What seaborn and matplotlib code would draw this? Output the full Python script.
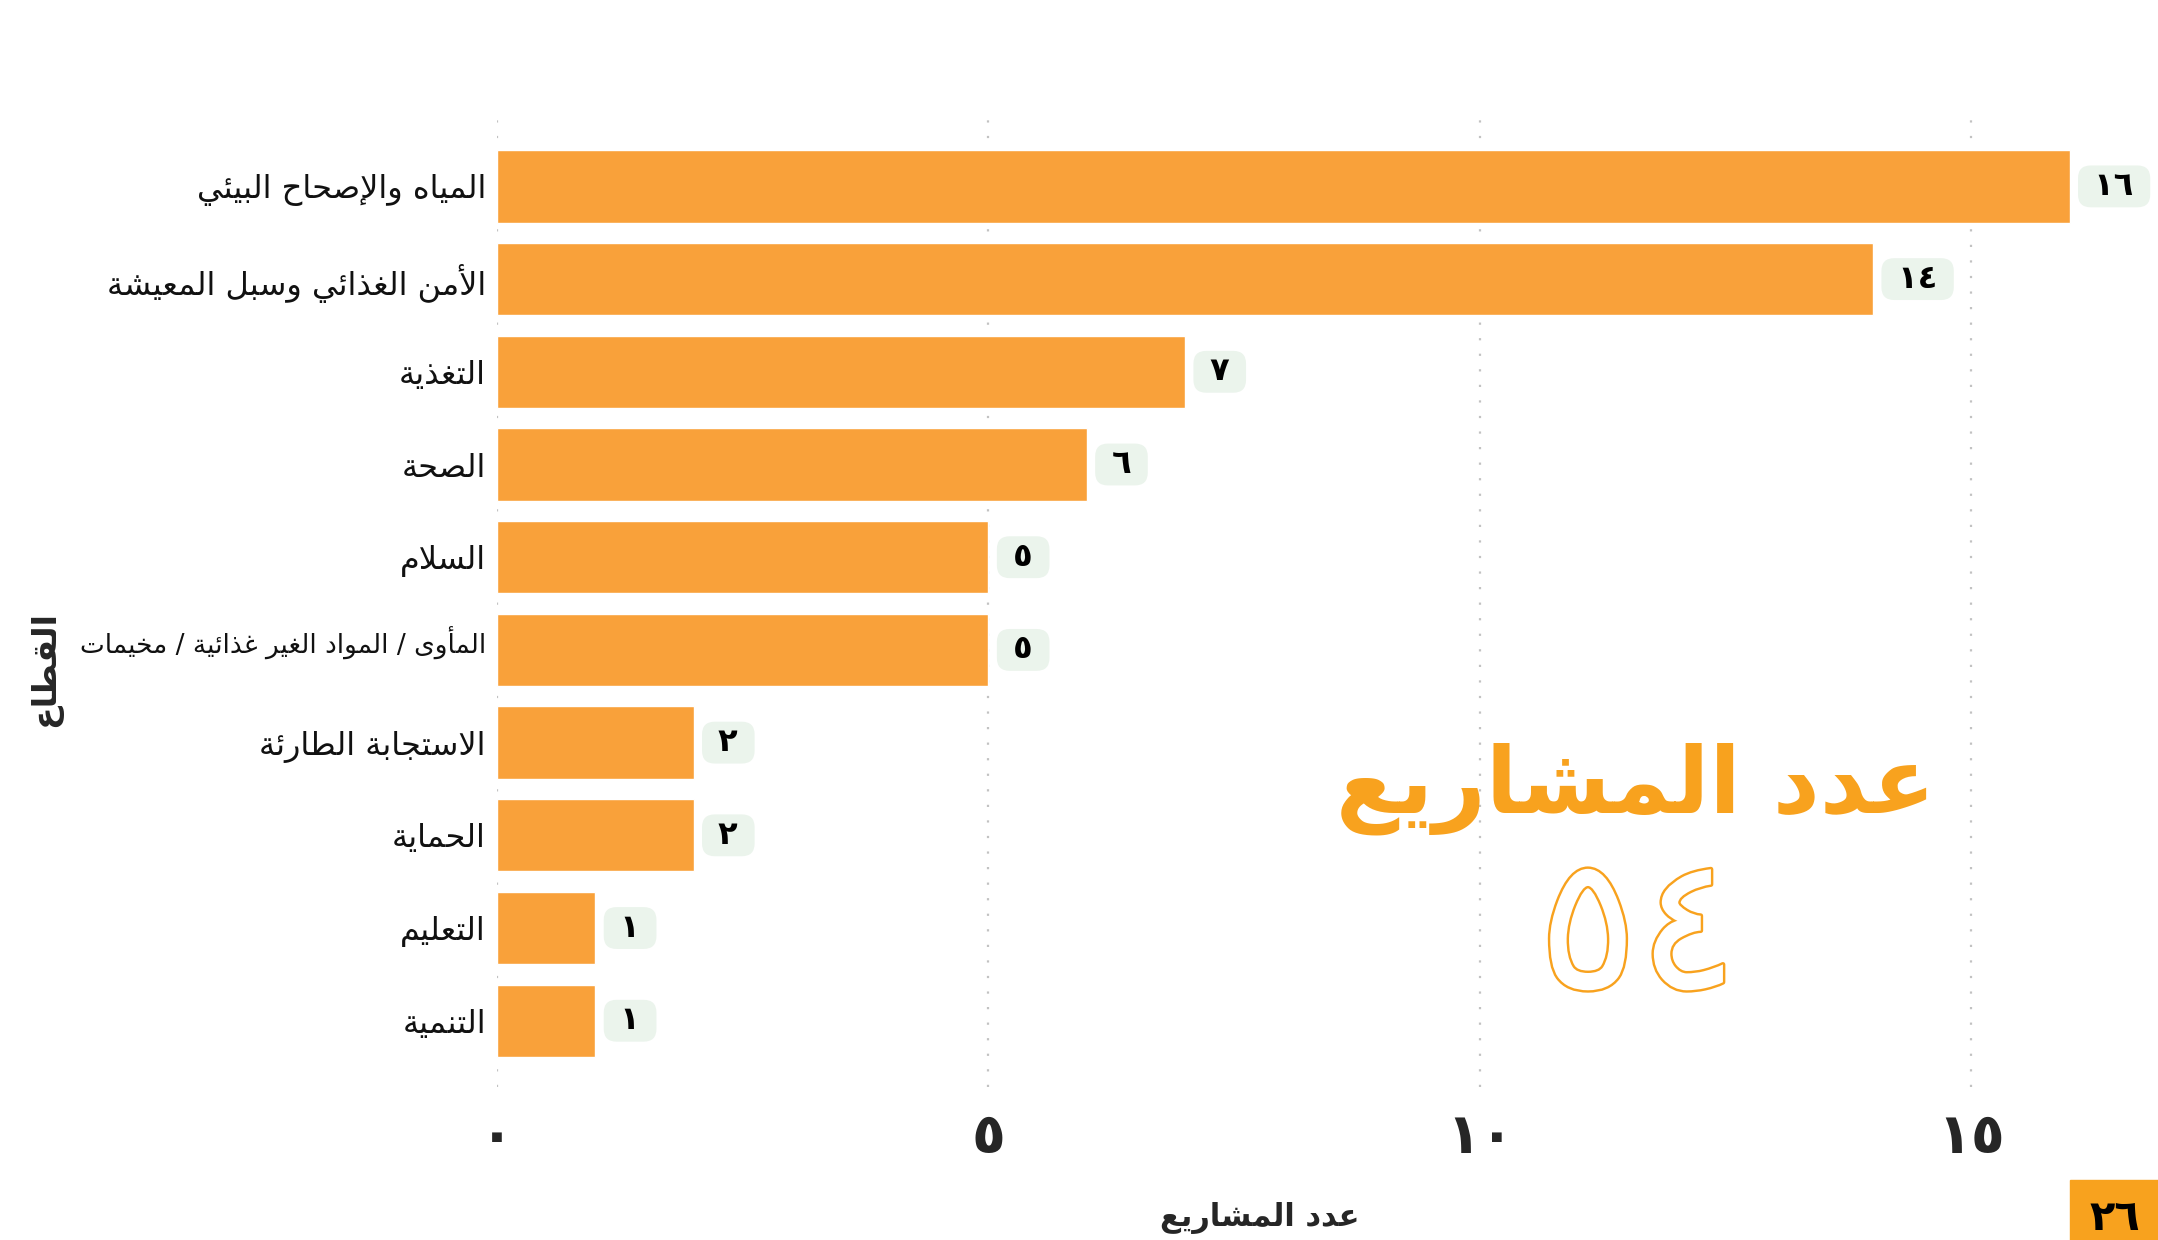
import matplotlib
matplotlib.use('Agg')
import matplotlib.pyplot as plt
import matplotlib.patheffects as pe
import matplotlib.transforms as mtransforms
from matplotlib.patches import Rectangle
from matplotlib.ticker import FuncFormatter
import pandas as pd
import seaborn as sns

# data
sectors = [
    'المياه والإصحاح البيئي',
    'الأمن الغذائي وسبل المعيشة',
    'التغذية',
    'الصحة',
    'السلام',
    'المأوى / المواد الغير غذائية / مخيمات',
    'الاستجابة الطارئة',
    'الحماية',
    'التعليم',
    'التنمية',
]
projects = [16, 14, 7, 6, 5, 5, 2, 2, 1, 1]
x_ticks = [0, 5, 10, 15]
x_title = 'عدد المشاريع'
y_title = 'القطاع'
big_title = 'عدد المشاريع'
total_projects = 54
page_number = 26

BAR = '#F9A13A'
ORANGE = '#F8A21E'
BOX = '#EBF4EC'

# --- minimal arabic shaping (matplotlib has no complex text layout) ---
START = {
    'ء': 0xFE80, 'آ': 0xFE81, 'أ': 0xFE83, 'ؤ': 0xFE85, 'إ': 0xFE87, 'ئ': 0xFE89,
    'ا': 0xFE8D, 'ب': 0xFE8F, 'ة': 0xFE93, 'ت': 0xFE95, 'ث': 0xFE99, 'ج': 0xFE9D,
    'ح': 0xFEA1, 'خ': 0xFEA5, 'د': 0xFEA9, 'ذ': 0xFEAB, 'ر': 0xFEAD, 'ز': 0xFEAF,
    'س': 0xFEB1, 'ش': 0xFEB5, 'ص': 0xFEB9, 'ض': 0xFEBD, 'ط': 0xFEC1, 'ظ': 0xFEC5,
    'ع': 0xFEC9, 'غ': 0xFECD, 'ف': 0xFED1, 'ق': 0xFED5, 'ك': 0xFED9, 'ل': 0xFEDD,
    'م': 0xFEE1, 'ن': 0xFEE5, 'ه': 0xFEE9, 'و': 0xFEED, 'ى': 0xFEEF, 'ي': 0xFEF1,
}
DUAL = set('ئبتثجحخسشصضطظعغفقكلمنهي')
LAM_ALEF = {'آ': 0xFEF5, 'أ': 0xFEF7, 'إ': 0xFEF9, 'ا': 0xFEFB}


def shape(text):
    out = []
    i, n = 0, len(text)
    while i < n:
        c = text[i]
        if c not in START:
            out.append(c)
            i += 1
            continue
        prev = text[i - 1] if i > 0 else ''
        nxt = text[i + 1] if i + 1 < n else ''
        join_prev = prev in DUAL
        if c == 'ل' and nxt in LAM_ALEF:
            out.append(chr(LAM_ALEF[nxt] + (1 if join_prev else 0)))
            i += 2
            continue
        base = START[c]
        if c == 'ء':
            out.append(chr(base))
        else:
            join_next = c in DUAL and nxt in START and nxt != 'ء'
            if join_prev and join_next:
                out.append(chr(base + 3))
            elif join_next:
                out.append(chr(base + 2))
            elif join_prev:
                out.append(chr(base + 1))
            else:
                out.append(chr(base))
        i += 1
    return ''.join(reversed(out))


EAST = str.maketrans('0123456789', '٠١٢٣٤٥٦٧٨٩')


def ar_num(v):
    return str(int(v)).translate(EAST)


sns.set_theme(style='white')
plt.rcParams['font.family'] = ['DejaVu Sans']

df = pd.DataFrame({'sector': sectors, 'projects': projects})

fig = plt.figure(figsize=(21.58, 12.4), dpi=100)
ax = fig.add_axes([0.2303, 0.123, 0.7697, 0.785])
sns.barplot(data=df, x='projects', y='sector', orient='h', color=BAR,
            saturation=1, width=0.78, ax=ax)

ax.set_xlim(0, 16.9)
ax.set_ylim(9.72, -0.78)
ax.set_xticks(x_ticks)
ax.xaxis.set_major_formatter(FuncFormatter(lambda v, p: ar_num(v)))
ax.grid(axis='x', color='#c2c2c2', linestyle=(0, (1, 6)), linewidth=1.6)
ax.set_axisbelow(True)
sns.despine(ax=ax, left=True, bottom=True)
ax.tick_params(axis='both', length=0)
ax.tick_params(axis='x', labelsize=40, pad=17)
for t in ax.get_xticklabels():
    t.set_fontweight('bold')

ax.set_yticks(range(len(sectors)))
ax.set_yticklabels([shape(s) for s in sectors], fontsize=23, color='#111111')
ax.tick_params(axis='y', pad=8)
small = ax.get_yticklabels()[5]
small.set_fontsize(19)
small.set_transform(small.get_transform() +
                    mtransforms.ScaledTranslation(0, 7 / 72, fig.dpi_scale_trans))

ax.set_xlabel(shape(x_title), fontsize=22, fontweight='bold')
ax.xaxis.set_label_coords(0.459, -0.118)
ax.set_ylabel(shape(y_title), fontsize=24, fontweight='bold')
ax.yaxis.set_label_coords(-0.262, 0.43)

# value boxes
for i, v in enumerate(projects):
    ax.annotate(' ' + ar_num(v) + ' ', xy=(v, i), xytext=(10, 0), textcoords='offset points',
                ha='left', va='center', fontsize=23, fontweight='bold', color='black',
                bbox=dict(boxstyle='round,pad=0.17,rounding_size=0.4', fc=BOX, ec='none'))

# big overlay text
fig.text(0.758, 0.364, shape(big_title), fontsize=66, fontweight='bold',
         color=ORANGE, ha='center', va='center')
fig.text(0.759, 0.244, ar_num(total_projects), fontsize=134, color='white',
         ha='center', va='center',
         path_effects=[pe.Stroke(linewidth=3.5, foreground=ORANGE), pe.Normal()])

# page number tab
fig.patches.append(Rectangle((0.959, 0), 0.041, 0.048, transform=fig.transFigure,
                             color=ORANGE, zorder=5))
fig.text(0.98, 0.035, ar_num(page_number), fontsize=30, fontweight='bold',
         color='black', ha='center', va='top', zorder=6)

fig.savefig('out.png', dpi=100, facecolor='white')
